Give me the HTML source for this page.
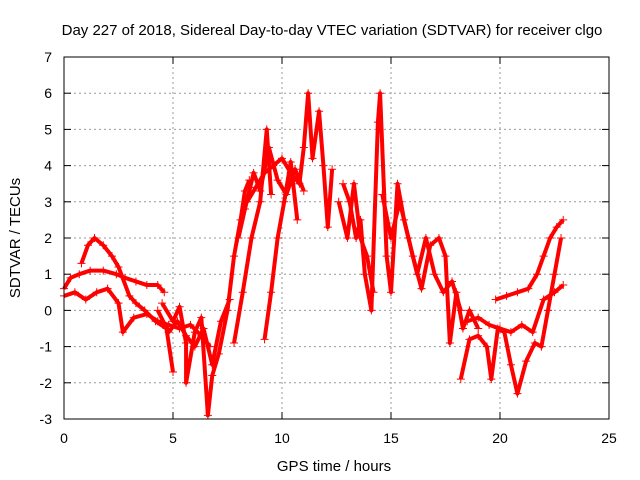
<!DOCTYPE html>
<html><head><meta charset="utf-8"><style>
body{margin:0;background:#fff;}
svg{display:block;font-family:"Liberation Sans",sans-serif;}
</style></head><body>
<svg id="chart" width="640" height="480">
<text x="332" y="35" font-size="15" text-anchor="middle">Day 227 of 2018, Sidereal Day-to-day VTEC variation (SDTVAR) for receiver clgo</text>
<text x="334" y="471" font-size="15" text-anchor="middle">GPS time / hours</text>
<text transform="translate(20,238) rotate(-90)" font-size="15" text-anchor="middle">SDTVAR / TECUs</text>
<g id="grid"></g><g id="ticks"></g><g id="series"></g>
<rect x="64" y="57" width="545" height="362" fill="none" stroke="#000"/>
</svg>
<script>
const xTicks=[0,5,10,15,20,25];
const yTicks=[-3,-2,-1,0,1,2,3,4,5,6,7];
const trackA=[[0,0.6],[0.3,0.9],[0.7,1.0],[1.2,1.1],[1.8,1.1],[2.4,1.0],[2.8,0.9],[3.3,0.8],[3.8,0.7],[4.3,0.7],[4.6,0.5]];
const trackB=[[0.8,1.3],[1.1,1.8],[1.4,2.0],[1.8,1.8],[2.2,1.5],[2.5,1.2],[3.0,0.4],[3.3,0.2],[3.7,0.0],[4.2,-0.3],[4.7,-0.5],[5.0,-1.7]];
const trackC=[[0,0.4],[0.5,0.5],[1.0,0.3],[1.5,0.5],[2.0,0.6],[2.5,0.2],[2.7,-0.6],[3.2,-0.2],[3.8,-0.1],[4.3,-0.3],[4.8,-0.4],[5.3,-0.5],[5.8,-0.4],[6.3,-0.7],[6.7,-1.0]];
const trackD=[[4.5,0.2],[5.0,-0.3],[5.3,0.1],[5.6,-0.9],[5.6,-2.0],[6.0,-0.6],[6.3,-0.2],[6.6,-2.9],[6.8,-1.8],[7.1,-1.2],[7.5,0.0],[7.8,1.5],[8.1,2.5],[8.3,3.3],[8.5,3.6]];
const trackE=[[8.4,3.0],[8.8,3.4],[9.2,3.8],[9.6,4.0],[10.0,4.2],[10.4,3.8],[10.8,3.5],[11.0,4.5],[11.2,6.0],[11.4,4.2],[11.7,5.5],[11.9,4.0],[12.1,2.3],[12.3,3.9]];
const trackF=[[7.8,-0.9],[8.2,0.5],[8.6,2.0],[9.0,3.0],[9.3,5.0],[9.5,3.2]];
const trackG=[[9.2,-0.8],[9.5,0.5],[9.8,2.0],[10.1,3.0],[10.4,4.1],[10.7,2.5]];
const trackH=[[12.8,3.5],[13.1,3.0],[13.4,2.0],[13.6,2.5],[13.8,1.0],[14.1,0.0],[14.4,5.2],[14.5,6.0],[14.7,3.0],[14.8,1.5],[15.0,0.5],[15.3,3.5],[15.6,2.5],[16.0,1.5],[16.4,0.6],[16.8,1.8],[17.2,2.0],[17.5,1.5],[17.7,-0.9],[18.0,0.5],[18.3,-0.5],[18.6,0.0],[19.0,-0.5]];
const trackI=[[18.2,-1.9],[18.6,-0.8],[19.0,-0.7],[19.4,-1.0],[19.6,-1.9],[19.9,-0.5],[20.2,-0.6],[20.5,-1.5],[20.8,-2.3],[21.2,-1.4],[21.6,-0.9],[21.9,-1.0],[22.2,0.0],[22.5,1.0],[22.8,2.0]];
const trackJ=[[19.8,0.3],[20.3,0.4],[20.8,0.5],[21.3,0.6],[21.7,1.0],[22.0,1.5],[22.3,2.0],[22.6,2.3],[22.9,2.5]];
const trackK=[[18.5,-0.3],[19.0,-0.2],[19.5,-0.4],[20.0,-0.5],[20.5,-0.6],[21.0,-0.4],[21.5,-0.6],[22.0,0.3],[22.5,0.5],[22.9,0.7]];
const trackL=[[8.0,2.0],[8.3,2.8],[8.7,3.8],[9.0,3.3],[9.4,4.5],[9.8,3.6],[10.2,3.2],[10.6,3.9],[11.0,3.3]];
const trackM=[[14.6,3.2],[15.0,2.0],[15.4,3.0],[15.8,2.0],[16.2,1.0],[16.6,2.0],[17.0,1.0],[17.4,0.5],[17.8,0.8],[18.2,0.0]];
const trackN=[[4.3,0.0],[4.8,-0.6],[5.2,-0.3],[5.6,-0.7],[6.0,-1.0],[6.4,-0.5],[6.8,-1.5],[7.2,-0.3],[7.6,0.3]];
const trackO=[[12.6,3.0],[13.0,2.0],[13.3,3.5],[13.6,2.0],[13.9,1.5],[14.2,0.5]];
const tracks=[trackA,trackB,trackC,trackD,trackE,trackF,trackG,trackH,trackI,trackJ,trackK,trackL,trackM,trackN,trackO];
const X=t=>64+t*545/25, Y=v=>419-(v+3)*36.2;
const NS="http://www.w3.org/2000/svg";
const grid=document.getElementById('grid'),ticks=document.getElementById('ticks'),ser=document.getElementById('series');
function mk(tag,attrs,parent){const e=document.createElementNS(NS,tag);for(const k in attrs)e.setAttribute(k,attrs[k]);parent.appendChild(e);return e;}
xTicks.forEach(t=>{const x=X(t);
 if(t>0&&t<25){const l=mk('line',{x1:x,x2:x,y1:57,y2:419,stroke:'#999','stroke-dasharray':'2,3'},grid);
 
 }
 const tx=mk('text',{x:x,y:443,'font-size':14,'text-anchor':'middle'},ticks);tx.textContent=t;
 
 
 mk('line',{x1:x,x2:x,y1:419,y2:412,stroke:'#000'},ticks);mk('line',{x1:x,x2:x,y1:57,y2:64,stroke:'#000'},ticks);});
yTicks.forEach(v=>{const y=Y(v);
 if(v>-3&&v<7){const l=mk('line',{x1:64,x2:609,y1:y,y2:y,stroke:'#999','stroke-dasharray':'2,3'},grid);
 
 }
 const tx=mk('text',{x:52,y:y+5,'font-size':14,'text-anchor':'end'},ticks);tx.textContent=v;
 
 
 mk('line',{x1:64,x2:71,y1:y,y2:y,stroke:'#000'},ticks);mk('line',{x1:602,x2:609,y1:y,y2:y,stroke:'#000'},ticks);});
tracks.forEach(tr=>{
 const p=mk('polyline',{points:tr.map(d=>X(d[0])+','+Y(d[1])).join(' '),fill:'none',stroke:'#f00','stroke-width':4,'stroke-linejoin':'round'},ser);
 
 
 tr.forEach(d=>{const x=X(d[0]),y=Y(d[1]);
  const m=mk('path',{d:`M${x-4},${y}h8M${x},${y-4}v8`,stroke:'#f00','stroke-width':1},ser);
  
  });
});
</script>
</body></html>
